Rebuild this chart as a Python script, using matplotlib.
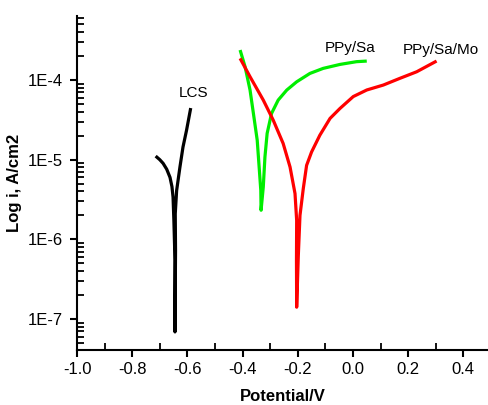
import matplotlib
matplotlib.use("Agg")
import matplotlib.pyplot as plt
from matplotlib.ticker import FixedLocator, LogLocator, FuncFormatter, MultipleLocator
import numpy as np

plt.rcParams['font.family'] = ['Liberation Sans', 'DejaVu Sans']

# Tafel curves: potential (V) and current density (A/cm2)
lcs_v = [-0.715, -0.700, -0.688, -0.675, -0.663, -0.656, -0.652, -0.649, -0.645, -0.645,
         -0.643, -0.644, -0.639, -0.627, -0.616, -0.603, -0.588]
lcs_i = [1.11e-5, 1.0e-5, 9.0e-6, 7.6e-6, 6.0e-6, 4.6e-6, 3.4e-6, 1.74e-6, 5.5e-7, 6.9e-8,
         7.3e-7, 2.1e-6, 4.1e-6, 8.1e-6, 1.44e-5, 2.35e-5, 4.45e-5]

sa_v = [-0.409, -0.391, -0.373, -0.359, -0.347, -0.340, -0.334, -0.333,
        -0.325, -0.319, -0.311, -0.295, -0.271, -0.240, -0.204, -0.156,
        -0.108, -0.047, 0.013, 0.050]
sa_i = [2.38e-4, 1.47e-4, 7.5e-5, 3.45e-5, 1.76e-5, 8.1e-6, 4.13e-6, 2.32e-6,
        4.55e-6, 1.08e-5, 2.14e-5, 3.81e-5, 5.6e-5, 7.48e-5, 9.5e-5, 1.21e-4,
        1.40e-4, 1.57e-4, 1.70e-4, 1.73e-4]

mo_v = [-0.409, -0.373, -0.325, -0.289, -0.253, -0.228, -0.210, -0.204, -0.2047, -0.204,
        -0.198, -0.192, -0.180, -0.168, -0.150, -0.120, -0.083, -0.047, 0.001,
        0.050, 0.110, 0.170, 0.231, 0.303]
mo_i = [1.87e-4, 1.10e-4, 5.6e-5, 3.14e-5, 1.60e-5, 8.1e-6, 3.76e-6, 1.73e-6, 5.4e-7, 1.41e-7,
        6.3e-7, 2.0e-6, 4.35e-6, 8.5e-6, 1.25e-5, 2.03e-5, 3.3e-5, 4.4e-5, 6.2e-5,
        7.5e-5, 8.65e-5, 1.05e-4, 1.27e-4, 1.73e-4]

names = ['LCS', 'PPy/Sa', 'PPy/Sa/Mo']
colors = ['black', '#00ee00', '#ff0000']
label_pos = [(-0.578, 6.9e-5), (-0.012, 2.5e-4), (0.318, 2.4e-4)]

fig = plt.figure(figsize=(4.89, 4.05), dpi=100)
ax = fig.add_axes([0.1575, 0.136, 0.8425, 0.825])

for v, i, c in zip([lcs_v, sa_v, mo_v], [lcs_i, sa_i, mo_i], colors):
    ax.plot(v, i, color=c, lw=2.3, solid_capstyle='butt', solid_joinstyle='round')

for name, (x, y) in zip(names, label_pos):
    ax.text(x, y, name, fontsize=11, ha='center', va='center')

ax.set_yscale('log')
ax.set_xlim(-1.0, 0.493)
ax.set_ylim(4.1e-8, 6.4e-4)

ax.xaxis.set_major_locator(MultipleLocator(0.2))
ax.xaxis.set_minor_locator(MultipleLocator(0.1))
ax.xaxis.set_major_formatter(FuncFormatter(lambda x, p: f"{x:.1f}"))
ax.yaxis.set_major_locator(FixedLocator([1e-7, 1e-6, 1e-5, 1e-4]))
ax.yaxis.set_minor_locator(LogLocator(base=10, subs=np.arange(2, 10)))
ax.yaxis.set_major_formatter(FuncFormatter(lambda y, p: f"1E{int(round(np.log10(y)))}"))
ax.yaxis.set_minor_formatter(FuncFormatter(lambda y, p: ""))

ax.tick_params(which='major', direction='out', length=5, width=1.5, labelsize=12, pad=4)
ax.tick_params(which='minor', direction='in', length=5, width=1.3)
ax.tick_params(axis='y', which='major', pad=5)

for s in ['top', 'right']:
    ax.spines[s].set_visible(False)
for s in ['left', 'bottom']:
    ax.spines[s].set_linewidth(1.5)

ax.set_xlabel('Potential/V', fontsize=12, fontweight='bold', labelpad=8)
ax.set_ylabel('Log i, A/cm2', fontsize=12, fontweight='bold', labelpad=4)

fig.savefig('out.png', dpi=100)
